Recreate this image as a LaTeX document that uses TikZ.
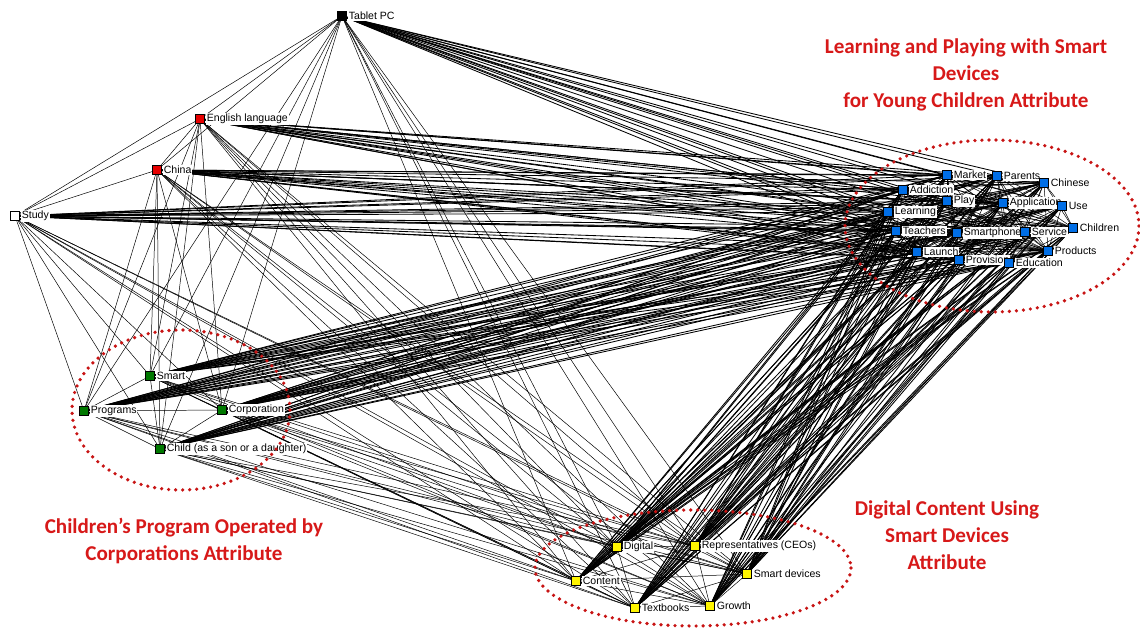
\documentclass[tikz,border=0pt]{standalone}
\usepackage{fontspec}
\setmainfont{Liberation Sans}
\newfontfamily\titlefont{Carlito}
\usetikzlibrary{positioning,backgrounds}

\definecolor{nodered}{RGB}{230,0,0}
\definecolor{nodegreen}{RGB}{0,120,0}
\definecolor{nodeblue}{RGB}{0,110,230}
\definecolor{nodeyellow}{RGB}{255,245,0}
\definecolor{attrred}{RGB}{215,25,25}
\definecolor{ringred}{RGB}{200,20,20}

\tikzset{
  term/.style={rectangle,draw=black,line width=0.3pt,minimum size=0.22cm,inner sep=0pt},
  termlabel/.style={fill=white,inner sep=0.6pt,font=\fontsize{7.5}{9}\selectfont},
  link/.style={line width=0.35pt,black},
  heavylink/.style={line width=0.6pt,black},
  ring/.style={ringred,line width=2.6pt,line cap=round,dash pattern=on 0pt off 5pt},
  attr/.style={text=attrred,align=center,font=\titlefont\bfseries\fontsize{15}{19}\selectfont}
}

\def\allterms{tab,eng,chi,stu,sma,pro,cor,chd,mkt,par,chn,add,ply,app,use,lrn,cld,tch,sph,svc,lau,prd,prv,edu,dig,rep,sdv,con,txt,gro}

\begin{document}
\begin{tikzpicture}[x=0.025cm,y=-0.025cm]
  \useasboundingbox (0,0) rectangle (1140,628);

  % terms of the network
  \foreach \n/\x/\y/\c/\t in {
      tab/342/16/black/Tablet PC,
      eng/200/119/nodered/English language,
      chi/157/170/nodered/China,
      stu/15/216/white/Study,
      sma/150/376/nodegreen/Smart,
      pro/84/411/nodegreen/Programs,
      cor/222/410/nodegreen/Corporation,
      chd/160/449/nodegreen/Child (as a son or a daughter),
      mkt/947/175/nodeblue/Market,
      par/997/176/nodeblue/Parents,
      chn/1044/183/nodeblue/Chinese,
      add/903/190/nodeblue/Addiction,
      ply/947/201/nodeblue/Play,
      app/1003/203/nodeblue/Application,
      use/1062/206/nodeblue/Use,
      lrn/888/212/nodeblue/Learning,
      cld/1073/228/nodeblue/Children,
      tch/896/231/nodeblue/Teachers,
      sph/957/233/nodeblue/Smartphone,
      svc/1025/232/nodeblue/Service,
      lau/917/252/nodeblue/Launch,
      prd/1048/251/nodeblue/Products,
      prv/959/260/nodeblue/Provision,
      edu/1009/263/nodeblue/Education,
      dig/617/547/nodeyellow/Digital,
      rep/695/546/nodeyellow/Representatives (CEOs),
      sdv/747/574/nodeyellow/Smart devices,
      con/576/581/nodeyellow/Content,
      txt/635/608/nodeyellow/Textbooks,
      gro/710/606/nodeyellow/Growth} {
    \node[term,fill=\c] (\n) at (\x,\y) {};
    \node[termlabel,right=0.8pt of \n] (\n-l) {\t};
  }

  % co-occurrence links (heavier into the smart-device group)
  \begin{scope}[on background layer]
    \fill[white] (0,0) rectangle (1140,628);
    \foreach \a [count=\i] in \allterms {
      \foreach \b [count=\j] in \allterms {
        \ifnum\j>\i
          \pgfmathtruncatemacro\blu{(\j>8)*(\j<25)+(\i>8)*(\i<25)}
          \ifnum\blu=1 \draw[heavylink] (\a) -- (\b); \else \draw[link] (\a) -- (\b); \fi
        \fi
      }
    }
  \end{scope}

  % attribute groups
  \draw[ring] (992,226) ellipse [x radius=147, y radius=86];
  \draw[ring] (181,410) ellipse [x radius=109, y radius=80];
  \draw[ring] (693,568) ellipse [x radius=158, y radius=58];

  \node[attr] (learn-attr) at (966,75) {Learning and Playing with Smart\\Devices\\for Young Children Attribute};
  \node[attr] (prog-attr) at (184,541) {Children’s Program Operated by\\Corporations Attribute};
  \node[attr] (digi-attr) at (947,535) {Digital Content Using\\Smart Devices\\Attribute};
\end{tikzpicture}
\end{document}
